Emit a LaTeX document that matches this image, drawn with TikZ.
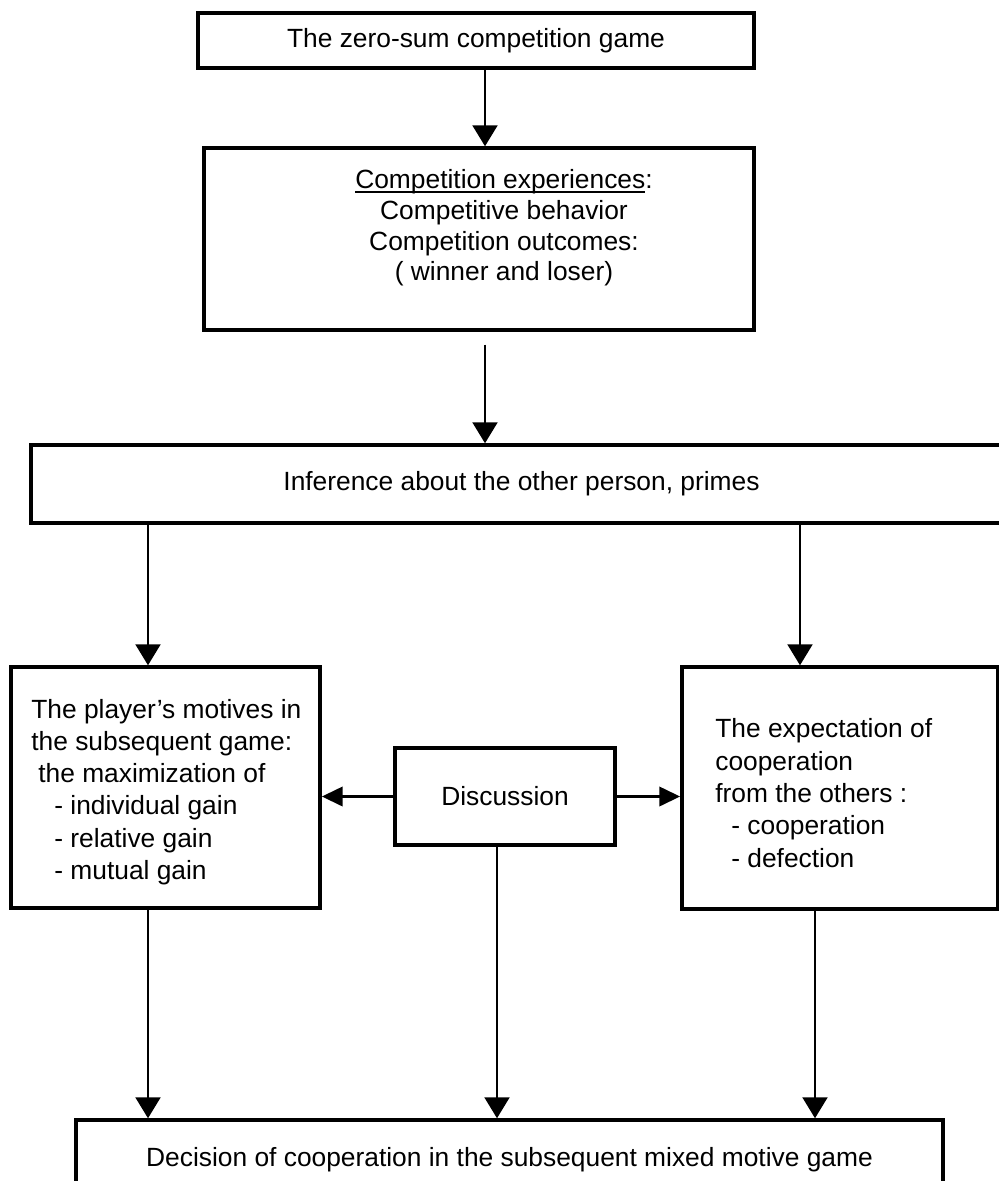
\documentclass[tikz,border=0pt]{standalone}
\usepackage{fontspec}
\setmainfont{Liberation Sans}
\usetikzlibrary{arrows.meta}

\newcommand\ulwords[1]{\setbox0\hbox{#1}\rlap{\rule[-2.2pt]{\wd0}{0.8pt}}\box0}

\tikzset{
  flowbox/.style={draw, line width=2pt, inner sep=0pt},
  txt/.style={inner sep=0pt},
  arr/.style={line width=1.2pt, -{Triangle[length=0.42cm,width=0.5cm]}},
  sidearr/.style={line width=2.2pt, -{Triangle[length=0.42cm,width=0.38cm]}},
}

\begin{document}
\begin{tikzpicture}[x=0.02cm,y=-0.02cm,font=\fontsize{15}{18.4}\selectfont]
  \useasboundingbox (0,0) rectangle (999,1181);
  % columns of the connectors
  \coordinate (colM) at (485,0);
  \coordinate (colA) at (148,0);
  \coordinate (colB) at (800,0);
  \coordinate (colC) at (815,0);
  \coordinate (colD) at (497,0);

  \node[flowbox, minimum width=11.12cm, minimum height=1.1cm] (zsg) at (476,40.5) {The zero-sum competition game};
  \node[flowbox, minimum width=11cm, minimum height=3.64cm] (exper) at (479,239) {};
  \node[txt, align=center, font=\fontsize{15}{17.5}\selectfont] (expertxt) at (504,228)
    {\ulwords{Competition experiences}:\\ Competitive behavior\\ Competition outcomes:\\ ( winner and loser)};
  % open at the right: runs off the page
  \node[flowbox, minimum width=19.62cm, minimum height=1.56cm] (infer) at (521.5,484) {\raisebox{4pt}{Inference about the other person, primes}};

  \node[flowbox, minimum width=6.18cm, minimum height=4.82cm] (motive) at (165.5,787.5) {};
  \node[txt, align=left, anchor=west] (motivetxt) at (31,792)
    {The player’s motives in\\ the subsequent game:\\ \hspace{0.14cm}the maximization of\\
     \hspace{0.46cm}- individual gain\\ \hspace{0.46cm}- relative gain\\ \hspace{0.46cm}- mutual gain};
  \node[flowbox, minimum width=6.32cm, minimum height=4.84cm] (expect) at (840,788) {};
  \node[txt, align=left, anchor=west] (expecttxt) at (715,793)
    {The expectation of\\ cooperation\\ from the others :\\ \hspace{0.32cm}- cooperation\\ \hspace{0.32cm}- defection};
  \node[flowbox, minimum width=4.4cm, minimum height=1.94cm] (disc) at (505,796.5) {Discussion};

  % open at the bottom: runs off the page
  \node[flowbox, minimum width=17.34cm, minimum height=1.6cm] (dec) at (509.5,1160)
    {Decision of cooperation in the subsequent mixed motive game};

  \draw[arr] (zsg.south -| colM) -- (exper.north -| colM);
  \draw[arr, shorten <=0.26cm] (exper.south -| colM) -- (infer.north -| colM);
  \draw[arr] (infer.south -| colA) -- (motive.north -| colA);
  \draw[arr] (infer.south -| colB) -- (expect.north -| colB);
  \draw[sidearr] (disc.west) -- (motive.east |- disc.west);
  \draw[sidearr] (disc.east) -- (expect.west |- disc.east);
  \foreach \src/\col in {motive/colA, disc/colD, expect/colC}
    \draw[arr] (\src.south -| \col) -- (dec.north -| \col);
\end{tikzpicture}
\end{document}
